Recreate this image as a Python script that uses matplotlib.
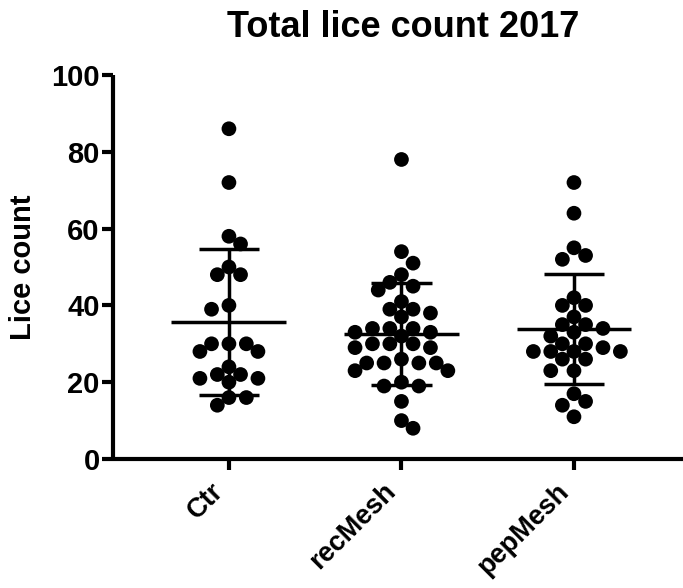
import matplotlib
matplotlib.use("Agg")
import matplotlib.pyplot as plt
import numpy as np

plt.rcParams["font.family"] = ["Liberation Sans", "DejaVu Sans"]
plt.rcParams["font.weight"] = "bold"

groups = ["Ctr", "recMesh", "pepMesh"]

ctr = [86, 72, 58, 56, 50, 48, 48, 40, 39, 30, 30, 30, 28, 28, 24, 22, 21, 21,
       22, 20, 16, 16, 14]
rec_mesh = [78, 54, 51, 48, 46, 45, 44, 41, 39, 39, 38, 37, 34, 33, 32, 33, 34, 34,
            30, 30, 30, 29, 29, 26, 25, 25, 25, 25, 23, 23, 20, 19, 19, 15, 10, 8]
pep_mesh = [72, 64, 55, 52, 53, 42, 40, 40, 37, 35, 35, 34, 33, 32, 30, 30, 28, 28,
            28, 28, 29, 26, 26, 23, 23, 17, 15, 14, 11]

title = "Total lice count 2017"
ylabel = "Lice count"

# figure geometry (pixels, 100 dpi)
W, H = 683, 588
left_px, right_px, top_px, bottom_px = 113, 683, 75, 459
xlim = (-0.672, 2.632)
ylim = (0, 100)

fig = plt.figure(figsize=(W / 100, H / 100), dpi=100)
ax = fig.add_axes([left_px / W, 1 - bottom_px / H,
                   (right_px - left_px) / W, (bottom_px - top_px) / H])
ax.set_xlim(*xlim)
ax.set_ylim(*ylim)

px_x = (right_px - left_px) / (xlim[1] - xlim[0])
px_y = (bottom_px - top_px) / (ylim[1] - ylim[0])


def swarm(values, step=5.8, dist=13.5):
    # simple beeswarm in pixel space, returns x offsets in data units
    vals = np.asarray(values, dtype=float)
    order = np.argsort(-vals)
    placed = []
    offs = np.zeros(len(vals))
    side = 1
    for i in order:
        y = vals[i] * px_y
        k = 0
        while True:
            cands = [0] if k == 0 else [side * k, -side * k]
            ok = None
            for c in cands:
                x = c * step
                if all((x - px) ** 2 + (y - py) ** 2 >= dist ** 2 for px, py in placed):
                    ok = x
                    break
            if ok is not None:
                break
            k += 1
        placed.append((ok, y))
        if ok != 0:
            side = -1 if ok > 0 else 1
        offs[i] = ok / px_x
    return offs


for i, vals in enumerate([ctr, rec_mesh, pep_mesh]):
    xs = i + swarm(vals)
    ax.scatter(xs, vals, s=10.6 ** 2, color="black", edgecolors="none", zorder=2)
    m = np.mean(vals)
    sd = np.std(vals, ddof=1)
    ax.hlines(m, i - 0.333, i + 0.333, color="black", lw=2.5, zorder=3)
    ax.hlines([m - sd, m + sd], i - 0.176, i + 0.176, color="black", lw=2.5, zorder=3)
    ax.vlines(i, m - sd, m + sd, color="black", lw=2.5, zorder=3)

ax.spines["top"].set_visible(False)
ax.spines["right"].set_visible(False)
for s in ["left", "bottom"]:
    ax.spines[s].set_linewidth(3)
    ax.spines[s].set_capstyle("butt")

ax.set_yticks(np.arange(0, 101, 20))
ax.set_xticks(range(len(groups)))
ax.set_xticklabels(groups, rotation=45, ha="right", va="top",
                   fontsize=19.5, fontweight="bold")
ax.tick_params(axis="both", direction="out", length=8, width=3, color="black")
ax.tick_params(axis="y", labelsize=21, pad=1.5)
ax.tick_params(axis="x", pad=6)
for lab in ax.get_yticklabels():
    lab.set_fontweight("bold")

fig.text(23 / W, 1 - 267 / H, ylabel, rotation=90, ha="center", va="center",
         fontsize=21, fontweight="bold")
fig.text(403 / W, 1 - 37 / H, title, ha="center", va="baseline",
         fontsize=26, fontweight="bold")

fig.savefig("out.png", dpi=100)
